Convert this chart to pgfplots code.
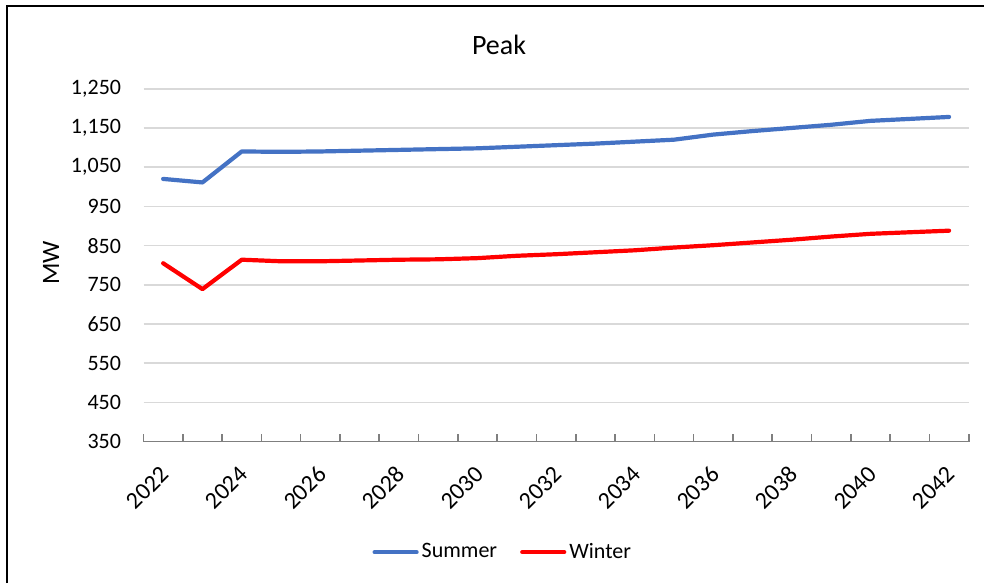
\documentclass[border=0pt]{standalone}
\usepackage{fontspec}
\setmainfont{Carlito}
\usepackage{pgfplots}
\pgfplotsset{compat=1.18}
\definecolor{sumblue}{HTML}{4472C4}
\definecolor{wred}{HTML}{FF0000}
\definecolor{gridgray}{HTML}{D9D9D9}
\definecolor{axgray}{HTML}{7F7F7F}
\begin{document}
\begin{tikzpicture}
\path[use as bounding box] (0,0) rectangle (492pt,291.5pt);
\fill[white] (0,0) rectangle (492pt,291.5pt);
\draw[black, line width=1.1pt] (3.5pt,0) -- (3.5pt,288.5pt) -- (492pt,288.5pt);
\node[font=\fontsize{14}{16}\selectfont] at (249.5pt,269pt) {Peak};
\node[rotate=90, font=\fontsize{12.5}{14}\selectfont] at (25.5pt,160pt) {MW};
\begin{axis}[
  at={(71.75pt,70.65pt)}, anchor=south west,
  scale only axis, width=412.6pt, height=176.5pt,
  xmin=-0.5, xmax=20.5, ymin=350, ymax=1250,
  axis x line*=bottom, axis y line*=left,
  x axis line style={draw=axgray, line width=0.8pt, -},
  y axis line style={draw=none},
  ytick={350,450,550,650,750,850,950,1050,1150,1250},
  ytick style={draw=none},
  ymajorgrids, grid style={gridgray, line width=0.8pt},
  xtick={0,2,4,6,8,10,12,14,16,18,20},
  xticklabels={2022,2024,2026,2028,2030,2032,2034,2036,2038,2040,2042},
  minor xtick={-0.5,0.5,1.5,2.5,3.5,4.5,5.5,6.5,7.5,8.5,9.5,10.5,11.5,12.5,13.5,14.5,15.5,16.5,17.5,18.5,19.5,20.5},
  major x tick style={draw=none},
  minor x tick style={draw=axgray, line width=0.8pt},
  tick align=inside,
  minor tick length=4pt,
  yticklabel style={font=\fontsize{11}{13}\selectfont, xshift=-7.7pt},
  xticklabel style={font=\fontsize{12}{14}\selectfont, yshift=-14.3pt, xshift=1pt, rotate=45, anchor=east, inner sep=0pt},
  /pgf/number format/1000 sep={,},
  /pgf/number format/assume math mode=true,
  legend style={at={(0.436,-0.313)}, anchor=center, draw=none, fill=none,
    legend columns=2, font=\fontsize{11}{13}\selectfont,
    /tikz/every even column/.append style={column sep=10pt},
    nodes={inner sep=1.5pt}},
  legend image code/.code={\draw[#1, line cap=round] (0pt,0pt) -- (21pt,0pt);},
]
\addplot[sumblue, line width=2.1pt, line join=round, line cap=round] coordinates {
(0,1020) (1,1011) (2,1090) (3,1089) (4,1090) (5,1092) (6,1094) (7,1096) (8,1098) (9,1102)
(10,1106) (11,1110) (12,1115) (13,1120) (14,1133) (15,1142) (16,1150) (17,1158) (18,1168) (19,1173) (20,1178)};
\addlegendentry{Summer}
\addplot[wred, line width=2.1pt, line join=round, line cap=round] coordinates {
(0,805) (1,739) (2,814) (3,810) (4,810) (5,812) (6,814) (7,815) (8,818) (9,824)
(10,828) (11,833) (12,838) (13,845) (14,851) (15,858) (16,865) (17,873) (18,880) (19,884) (20,888)};
\addlegendentry{Winter}
\end{axis}
\end{tikzpicture}
\end{document}
